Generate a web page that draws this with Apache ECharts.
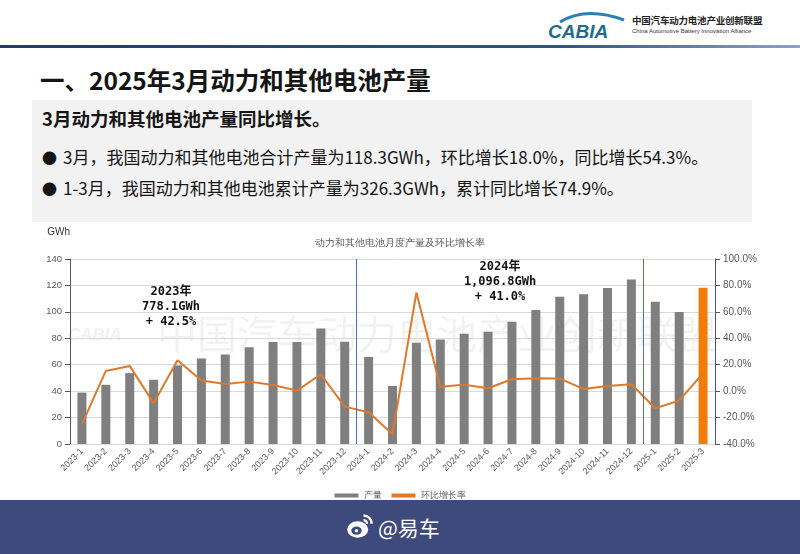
<!DOCTYPE html>
<html>
<head>
<meta charset="utf-8">
<title>动力和其他电池月度产量及环比增长率</title>
<script src="https://cdn.jsdelivr.net/npm/echarts@6/dist/echarts.min.js"></script>
<style>
  html, body { margin: 0; padding: 0; background: #fff; }
  body { width: 800px; height: 554px; position: relative; overflow: hidden;
         font-family: "Noto Sans CJK SC", "Noto Sans", sans-serif; color: #111; }
  .logo { position: absolute; left: 546px; top: 8px; }
  .org-cn { position: absolute; left: 632px; top: 13px; font-size: 9.5px; font-weight: bold; color: #222; letter-spacing: -0.2px; }
  .org-en { position: absolute; left: 632px; top: 28px; font-size: 6px; color: #333; font-family: "Liberation Sans", sans-serif; }
  .rule { position: absolute; left: 0; top: 45px; width: 800px; height: 3px;
          background: linear-gradient(to right, #243a6e, #34508c 70%, #8da2c9); }
  .title { position: absolute; left: 40px; top: 62px; font-size: 24.5px; font-weight: bold; color: #151515; white-space: nowrap; }
  .box { position: absolute; left: 32px; top: 100px; width: 720px; height: 122px; background: #f2f2f2; }
  .box p { position: absolute; left: 10px; margin: 0; white-space: nowrap; color: #151515; }
  .lead { top: 5px; font-size: 18.5px; font-weight: bold; }
  .b1 { top: 44px; font-size: 17px; }
  .b2 { top: 75px; font-size: 17px; }
  .dot { display: inline-block; width: 21px; font-size: 15px; }
  #chart { position: absolute; left: 0; top: 225px; width: 800px; height: 275px; }
  .footer { position: absolute; left: 0; top: 500px; width: 800px; height: 54px; background: #3f4a7c; }
  .weibo { position: absolute; left: 346px; top: 12px; }
  .handle { position: absolute; left: 378px; top: 12px; font-size: 21px; color: #fff; }
</style>
</head>
<body>
<svg class="logo" width="84" height="34" viewBox="0 0 84 34">
  <path d="M14 14 Q40 -2 78 12" stroke="#2a7fb3" stroke-width="3" fill="none"/>
  <text x="2" y="30" font-family="Liberation Sans" font-size="19" font-style="italic" font-weight="bold" fill="#1f6d8a">CABIA</text>
</svg>
<div class="org-cn">中国汽车动力电池产业创新联盟</div>
<div class="org-en">China Automotive Battery Innovation Alliance</div>
<div class="rule"></div>
<div class="title">一、2025年3月动力和其他电池产量</div>
<div class="box">
  <p class="lead">3月动力和其他电池产量同比增长。</p>
  <p class="b1"><span class="dot">●</span>3月，我国动力和其他电池合计产量为118.3GWh，环比增长18.0%，同比增长54.3%。</p>
  <p class="b2"><span class="dot">●</span>1-3月，我国动力和其他电池累计产量为326.3GWh，累计同比增长74.9%。</p>
</div>
<div id="chart"></div>
<div class="footer">
  <svg class="weibo" width="28" height="28" viewBox="0 0 24 24">
    <ellipse cx="10" cy="15" rx="9" ry="7" fill="#fff"/>
    <ellipse cx="9" cy="16" rx="4.5" ry="3.5" fill="#3f4a7c"/>
    <circle cx="9" cy="16" r="1.5" fill="#fff"/>
    <path d="M15 3 A7 7 0 0 1 22 10" stroke="#fff" stroke-width="2" fill="none"/>
    <path d="M15 7 A3 3 0 0 1 18 10" stroke="#fff" stroke-width="2" fill="none"/>
  </svg>
  <div class="handle">@易车</div>
</div>
<script>
// monthly output (GWh) and month-on-month growth (%)
const months = [
  "2023-1", "2023-2", "2023-3", "2023-4", "2023-5", "2023-6", "2023-7", "2023-8", "2023-9",
  "2023-10", "2023-11", "2023-12", "2024-1", "2024-2", "2024-3", "2024-4", "2024-5", "2024-6",
  "2024-7", "2024-8", "2024-9", "2024-10", "2024-11", "2024-12", "2025-1", "2025-2", "2025-3",
];
const output = [
  38.9, 44.8, 53.6, 48.6, 59.5, 64.7, 67.8, 73.2, 77.2, 77.2, 87.5, 77.4, 65.8, 43.9,
  76.7, 79.0, 83.5, 85.0, 92.6, 101.4, 111.5, 113.3, 118.1, 124.4, 107.7, 99.9, 118.3,
];
const momGrowth = [
  -25.0, 15.3, 19.1, -9.2, 23.4, 8.0, 5.4, 7.2, 4.7, 0.4, 12.8, -11.7, -16.0, -32.7,
  74.6, 3.4, 4.9, 2.2, 9.0, 9.8, 9.5, 1.7, 3.9, 5.2, -13.0, -7.2, 13.6,
];
// year dividers sit between these category slots
const yearBreaks = [12, 24];
const yearNotes = ["2023年\n778.1GWh\n+ 42.5%", "2024年\n1,096.8GWh\n+ 41.0%"];

const gray = "#7f7f7f";
const orange = "#e0782a";
const axisText = "#595959";

const chart = echarts.init(document.getElementById("chart"));

const barData = output.map((v, i) => {
  if (i === output.length - 1) {
    return { value: v, itemStyle: { color: "#f07c0a" } };
  }
  return v;
});

const noteFont = "bold 12px 'DejaVu Sans Mono', 'Noto Sans CJK SC'";

const option = {
  animation: false,
  title: {
    text: "动力和其他电池月度产量及环比增长率",
    left: "center",
    top: 8,
    textStyle: { fontSize: 10, fontWeight: "normal", color: axisText },
  },
  legend: {
    data: [
      { name: "产量", icon: "rect" },
      { name: "环比增长率", icon: "rect", itemStyle: { color: orange } },
    ],
    top: 261,
    left: "center",
    itemWidth: 24,
    itemHeight: 4,
    itemGap: 10,
    textStyle: { fontSize: 9, color: axisText },
  },
  grid: { left: 70, right: 85, top: 34, bottom: 56 },
  xAxis: [
    {
      type: "category",
      data: months,
      axisTick: { show: false },
      axisLine: { lineStyle: { color: "#d9d9d9" } },
      axisLabel: { rotate: 45, interval: 0, fontSize: 9, color: axisText, margin: 6 },
    },
    { type: "value", min: 0, max: months.length, show: false },
  ],
  yAxis: [
    {
      type: "value",
      name: "GWh",
      nameLocation: "end",
      nameGap: 22,
      nameTextStyle: { align: "right", fontSize: 10, color: "#333" },
      min: 0,
      max: 140,
      interval: 20,
      axisLabel: { fontSize: 9.5, color: axisText },
      splitLine: { lineStyle: { color: "#d9d9d9" } },
    },
    {
      type: "value",
      min: -40,
      max: 100,
      interval: 20,
      axisLabel: { fontSize: 10, color: axisText, formatter: (v) => v.toFixed(1) + "%" },
      splitLine: { show: false },
    },
  ],
  graphic: [
    {
      type: "text",
      left: 157,
      top: 89,
      z: 0,
      silent: true,
      style: {
        text: "中国汽车动力电池产业创新联盟",
        font: "40px 'Noto Sans CJK SC'",
        fill: "rgba(0,0,0,0.05)",
      },
    },
    {
      type: "text",
      left: 68,
      top: 102,
      z: 0,
      silent: true,
      style: {
        text: "CABIA",
        font: "italic bold 17px 'Liberation Sans'",
        fill: "rgba(0,0,0,0.06)",
      },
    },
    {
      type: "text",
      x: 171,
      y: 59,
      z: 10,
      style: { text: yearNotes[0], textAlign: "center", font: noteFont, lineHeight: 15, fill: "#111" },
    },
    {
      type: "text",
      x: 500,
      y: 34,
      z: 10,
      style: { text: yearNotes[1], textAlign: "center", font: noteFont, lineHeight: 15, fill: "#111" },
    },
  ],
  series: [
    {
      name: "产量",
      type: "bar",
      data: barData,
      barWidth: 9,
      itemStyle: { color: gray },
      z: 2,
    },
    {
      name: "环比增长率",
      type: "line",
      yAxisIndex: 1,
      data: momGrowth,
      symbol: "none",
      lineStyle: { color: orange, width: 2 },
      itemStyle: { color: orange },
      z: 3,
    },
    {
      name: "divider",
      type: "line",
      xAxisIndex: 1,
      data: [],
      markLine: {
        silent: true,
        symbol: "none",
        label: { show: false },
        lineStyle: { color: "#4a6fc4", width: 1, type: "solid" },
        data: yearBreaks.map((x) => ({ xAxis: x })),
      },
    },
  ],
};

chart.setOption(option);
</script>
</body>
</html>
